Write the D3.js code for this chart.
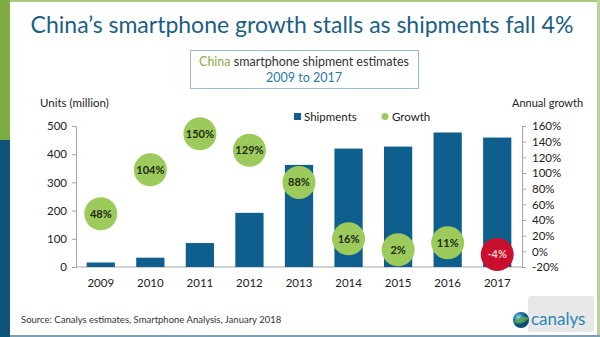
<!DOCTYPE html>
<html>
<head>
<meta charset="utf-8">
<script src="https://cdn.jsdelivr.net/npm/d3@7"></script>
<style>
  html, body { margin: 0; padding: 0; background: #fff; }
  svg { display: block; font-family: Lato, "Open Sans", sans-serif; }
</style>
</head>
<body>
<svg id="chart" width="600" height="337"></svg>
<script>
// Yearly China smartphone shipments (million units) and annual growth (%)
const years = ["2009", "2010", "2011", "2012", "2013", "2014", "2015", "2016", "2017"];
const shipments = [16, 33, 85, 192, 362, 420, 427, 477, 459];
const growth = [48, 104, 150, 129, 88, 16, 2, 11, -4];
const leftTicks = [0, 100, 200, 300, 400, 500];
const rightTicks = [-20, 0, 20, 40, 60, 80, 100, 120, 140, 160];

const svg = d3.select("#chart");
const W = 600, H = 337;

// page frame
svg.append("rect").attr("x", 0).attr("y", 0).attr("width", W).attr("height", H).attr("fill", "#fff");
svg.append("rect").attr("x", 0).attr("y", 0).attr("width", W).attr("height", 2).attr("fill", "#a9c984");
svg.append("rect").attr("x", W - 3).attr("y", 0).attr("width", 3).attr("height", H).attr("fill", "#b9d49a");
svg.append("rect").attr("x", 0).attr("y", H - 2).attr("width", W).attr("height", 2).attr("fill", "#7c9fb6");
svg.append("rect").attr("x", 0).attr("y", 0).attr("width", 10).attr("height", 140).attr("fill", "#7fac43");
svg.append("rect").attr("x", 0).attr("y", 140).attr("width", 10).attr("height", H - 140).attr("fill", "#0c5478");

// title
svg.append("text").attr("x", 302).attr("y", 33).attr("text-anchor", "middle")
  .attr("font-size", 23).attr("fill", "#1b5f83")
  .text("China\u2019s smartphone growth stalls as shipments fall 4%");

// subtitle box
svg.append("rect").attr("x", 190.5).attr("y", 50.5).attr("width", 228).attr("height", 38)
  .attr("fill", "#fff").attr("stroke", "#9bbbd0").attr("stroke-width", 1);
const sub = svg.append("text").attr("x", 304).attr("y", 66).attr("text-anchor", "middle")
  .attr("font-size", 12.5);
sub.append("tspan").attr("fill", "#86b04e").text("China");
sub.append("tspan").attr("fill", "#333").text(" smartphone shipment estimates");
svg.append("text").attr("x", 304).attr("y", 82).attr("text-anchor", "middle")
  .attr("font-size", 12.5).attr("fill", "#2b78a6").text("2009 to 2017");

// scales
const x = d3.scaleBand().domain(years).range([76, 522]).paddingInner(0.43).paddingOuter(0.215);
const yL = d3.scaleLinear().domain([0, 500]).range([267, 126]);
const yR = d3.scaleLinear().domain([-20, 160]).range([267, 126]);

// axes
const axisColor = "#a6a6a6";
const gL = svg.append("g").attr("transform", "translate(76,0)")
  .call(d3.axisLeft(yL).tickValues(leftTicks).tickSize(4).tickPadding(5));
const gR = svg.append("g").attr("transform", "translate(522,0)")
  .call(d3.axisRight(yR).tickValues(rightTicks).tickSize(4).tickPadding(6).tickFormat(d => d + "%"));
const gB = svg.append("g").attr("transform", "translate(0,267)")
  .call(d3.axisBottom(x).tickSize(0).tickPadding(12));
[gL, gR, gB].forEach(g => {
  g.select(".domain").attr("stroke", axisColor);
  g.selectAll(".tick line").attr("stroke", axisColor);
  g.selectAll(".tick text").attr("fill", "#222").attr("font-size", 11.5)
    .attr("font-family", "Lato, 'Open Sans', sans-serif");
});
gB.select(".domain").attr("d", "M76,0H522");

// axis titles
svg.append("text").attr("x", 40).attr("y", 107).attr("font-size", 11.5).attr("fill", "#222").text("Units (million)");
svg.append("text").attr("x", 512).attr("y", 107).attr("font-size", 11).attr("fill", "#222").text("Annual growth");

// legend
svg.append("rect").attr("x", 294).attr("y", 113).attr("width", 7).attr("height", 7).attr("fill", "#0e5f8e");
svg.append("text").attr("x", 304).attr("y", 120.5).attr("font-size", 11.5).attr("fill", "#222").text("Shipments");
svg.append("circle").attr("cx", 385).attr("cy", 116.5).attr("r", 3.5).attr("fill", "#9ccb5c");
svg.append("text").attr("x", 392).attr("y", 120.5).attr("font-size", 11.5).attr("fill", "#222").text("Growth");

// shipment bars
svg.append("g").selectAll("rect").data(years).join("rect")
  .attr("x", d => x(d)).attr("width", x.bandwidth())
  .attr("y", (d, i) => yL(shipments[i]))
  .attr("height", (d, i) => yL(0) - yL(shipments[i]))
  .attr("fill", "#0e5f8e");

// growth bubbles
const bub = svg.append("g").selectAll("g").data(years).join("g")
  .attr("transform", (d, i) => `translate(${x(d) + x.bandwidth() / 2},${yR(growth[i])})`);
bub.append("circle").attr("r", 16.5)
  .attr("fill", (d, i) => growth[i] < 0 ? "#c8102e" : "#9ccb5c");
bub.append("text").attr("text-anchor", "middle").attr("dy", "0.36em")
  .attr("font-size", 11).attr("font-weight", "bold")
  .attr("fill", (d, i) => growth[i] < 0 ? "#f3c9cf" : "#1e2a14")
  .text((d, i) => growth[i] + "%");

// source note
svg.append("text").attr("x", 21).attr("y", 323).attr("font-size", 9.5).attr("fill", "#333")
  .text("Source: Canalys estimates, Smartphone Analysis, January 2018");

// canalys logo
svg.append("rect").attr("x", 528).attr("y", 296).attr("width", 66).attr("height", 36).attr("rx", 3)
  .attr("fill", "#d9d9d9").attr("opacity", 0.6);
const grad = svg.append("defs").append("radialGradient").attr("id", "globe").attr("cx", "35%").attr("cy", "35%");
grad.append("stop").attr("offset", "0%").attr("stop-color", "#9fdcf0");
grad.append("stop").attr("offset", "55%").attr("stop-color", "#1d7fb0");
grad.append("stop").attr("offset", "100%").attr("stop-color", "#0c4b73");
svg.append("circle").attr("cx", 521).attr("cy", 320).attr("r", 8).attr("fill", "url(#globe)");
svg.append("path").attr("d", "M514,322 Q521,314 529,318 Q522,326 514,322Z").attr("fill", "#5da845").attr("opacity", 0.85);
svg.append("text").attr("x", 531).attr("y", 325).attr("font-size", 17).attr("fill", "#2a86b8").text("canalys");
</script>
</body>
</html>
